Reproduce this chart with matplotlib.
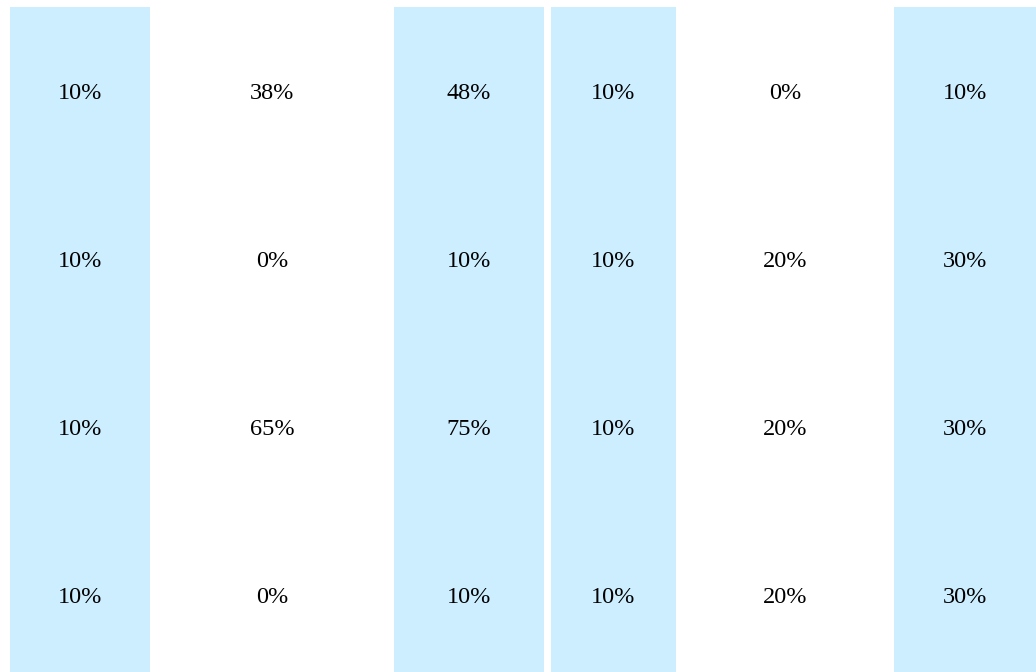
import matplotlib
matplotlib.use("Agg")
import matplotlib.pyplot as plt

# values per column, rows top to bottom
col_values = [
    [10, 10, 10, 10],
    [38, 0, 65, 0],
    [48, 10, 75, 10],
    [10, 10, 10, 10],
    [0, 20, 20, 20],
    [10, 30, 30, 30],
]
shaded = [True, False, True, True, False, True]

# layout in pixels
col_left = [10, 150, 394, 551, 676, 894]
col_right = [150, 394, 544, 676, 894, 1036]
top = 7
row_h = 168
W, H = 1036, 672

fig = plt.figure(figsize=(W / 100, H / 100), dpi=100)
ax = fig.add_axes([0, 0, 1, 1])
ax.set_xlim(0, W)
ax.set_ylim(H, 0)
ax.axis("off")

n_rows = len(col_values[0])
for i, vals in enumerate(col_values):
    left, right = col_left[i], col_right[i]
    if shaded[i]:
        ax.bar(left, row_h * n_rows, width=right - left, bottom=top,
               align="edge", color="#cceeff", linewidth=0)
    cx = (left + right) / 2
    for r, v in enumerate(vals):
        # baseline sits a little under the row middle
        cy = top + row_h * (r + 0.5) + 8
        ax.text(cx, cy, f"{v}%", ha="center", va="baseline",
                fontsize=17.5, family="Liberation Serif", color="#000000")

fig.savefig("out.png", dpi=100)
